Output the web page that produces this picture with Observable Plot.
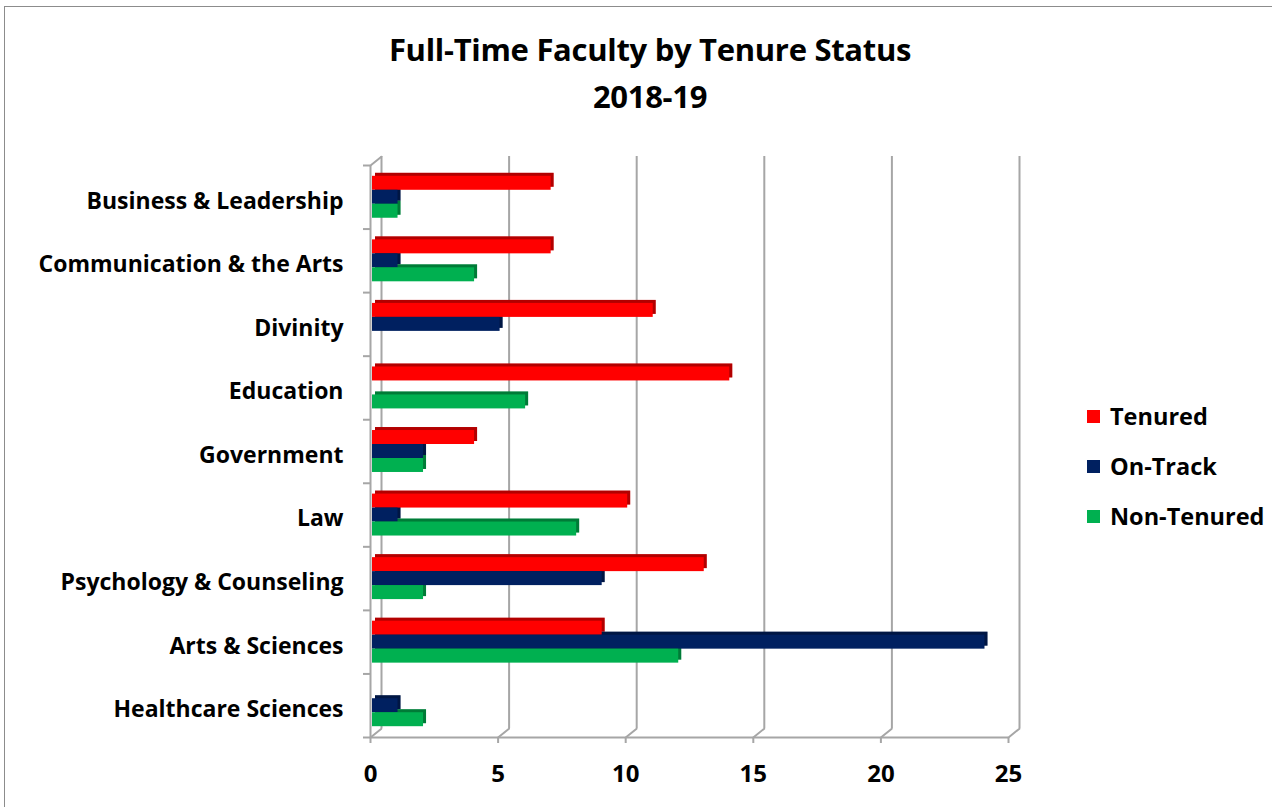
<!DOCTYPE html>
<html>
<head>
<meta charset="utf-8">
<script src="https://cdn.jsdelivr.net/npm/d3@7"></script>
<script src="https://cdn.jsdelivr.net/npm/@observablehq/plot@0.6"></script>
<style>
  body { margin: 0; background: #fff; font-family: "Open Sans", "Liberation Sans", sans-serif; }
  #wrap { position: relative; width: 1272px; height: 807px; overflow: hidden; background: #fff; }
  #border { position: absolute; left: 4px; top: 6px; width: 1400px; height: 1000px; border: 1px solid #8c8c8c; box-sizing: border-box; }
  #title { position: absolute; left: 0; top: 26px; width: 1300px; text-align: center; font-weight: 700; font-size: 31px; line-height: 47px; color: #000; letter-spacing: -0.3px; }
  #chart { position: absolute; left: 0; top: 140px; }
  #legend { position: absolute; left: 1087px; top: 391px; }
  .row { display: flex; align-items: center; height: 50px; font-weight: 700; font-size: 23.5px; color: #000; }
  .sw { width: 13px; height: 13px; margin-right: 10px; }
</style>
</head>
<body>
<div id="wrap">
  <div id="border"></div>
  <div id="title">Full-Time Faculty by Tenure Status<br>2018-19</div>
  <div id="chart"></div>
  <div id="legend"></div>
</div>
<script>
const categories = ["Business & Leadership", "Communication & the Arts", "Divinity", "Education", "Government", "Law", "Psychology & Counseling", "Arts & Sciences", "Healthcare Sciences"];
const series = ["Tenured", "On-Track", "Non-Tenured"];
const colors = ["#ff0000", "#002060", "#00b050"];
const tenured = [7, 7, 11, 14, 4, 10, 13, 9, 0];
const onTrack = [1, 1, 5, 0, 2, 1, 9, 24, 1];
const nonTenured = [1, 4, 0, 6, 2, 8, 2, 12, 2];
const xTicks = [0, 5, 10, 15, 20, 25];

const values = [tenured, onTrack, nonTenured];
const n = categories.length;
const rows = [];
categories.forEach((c, i) => series.forEach((s, k) => rows.push({category: c, i, series: s, s: k, value: values[k][i]})));

const h = 0.22; // bar thickness in category units
const y1 = d => d.i - 1.5 * h + d.s * h;
const y2 = d => d.i - 1.5 * h + (d.s + 1) * h;
const gray = "#a6a6a6";
const boundaries = d3.range(n + 1).map(i => i - 0.5);

const chart = Plot.plot({
  width: 1272,
  height: 667,
  marginLeft: 370,
  marginRight: 264,
  marginTop: 25,
  marginBottom: 70,
  x: {domain: [0, 25], axis: null},
  y: {domain: [n - 0.5, -0.5], axis: null},
  color: {domain: series, range: colors},
  style: {fontFamily: "'Open Sans', 'Liberation Sans', sans-serif", color: "#000", background: "transparent", overflow: "visible"},
  marks: [
    Plot.ruleX(xTicks, {y1: -0.5, y2: n - 0.5, dx: 11, dy: -9, stroke: gray, strokeWidth: 2}),
    Plot.vector(xTicks, {x: d => d, y: () => n - 0.5, length: 14, rotate: 51, anchor: "start", r: 0, stroke: gray, strokeWidth: 2}),
    Plot.vector([0], {x: d => d, y: () => -0.5, length: 14, rotate: 51, anchor: "start", r: 0, stroke: gray, strokeWidth: 2}),
    Plot.ruleX([0], {y1: -0.5, y2: n - 0.5, stroke: gray, strokeWidth: 2}),
    Plot.ruleY([n - 0.5], {x1: 0, x2: 25, stroke: gray, strokeWidth: 2}),
    Plot.axisY(boundaries, {tickFormat: () => "", tickSize: 7, stroke: gray, strokeWidth: 2, label: null}),
    Plot.axisY(d3.range(n), {tickFormat: i => categories[i], tickSize: 0, tickPadding: 27, dy: 4, fontSize: 23, fontWeight: "bold", fill: "#000", label: null}),
    Plot.axisX(xTicks, {tickSize: 6, tickPadding: 21, fontSize: 24, fontWeight: "bold", stroke: gray, strokeWidth: 2, fill: "#000", label: null}),
    // 3D depth (top and side faces)
    Plot.rect(rows, {x1: 0, x2: "value", y1, y2, fill: "series", dx: 5, dy: -3}),
    Plot.rect(rows, {x1: 0, x2: "value", y1, y2, fill: "#000", fillOpacity: 0.3, dx: 5, dy: -3}),
    // front faces
    Plot.rect(rows, {x1: 0, x2: "value", y1, y2, fill: "series", dx: 2})
  ]
});
document.getElementById("chart").appendChild(chart);

const legend = d3.select("#legend");
series.forEach((s, k) => {
  const r = legend.append("div").attr("class", "row");
  r.append("div").attr("class", "sw").style("background", colors[k]);
  r.append("span").text(s);
});
</script>
</body>
</html>
